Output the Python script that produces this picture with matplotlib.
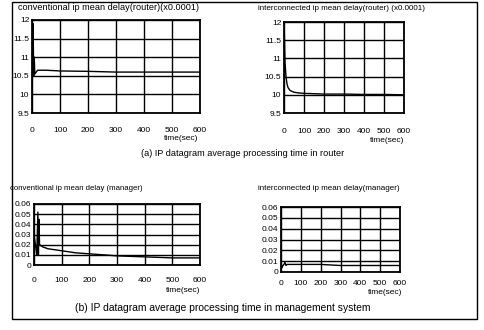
import matplotlib.pyplot as plt
from matplotlib.patches import Rectangle

plt.rcParams['font.family'] = ['Liberation Sans', 'DejaVu Sans']

# time axis (sec)
xticks = [0, 100, 200, 300, 400, 500, 600]

# (a) router, values in units of 0.0001
router_yticks = [9.5, 10, 10.5, 11, 11.5, 12]
router_ylabels = ['9.5', '10', '10.5', '11', '11.5', '12']
t_conv_router = [0, 2, 4, 6, 8, 10, 15, 20, 30, 50, 100, 200, 300, 400, 500, 600]
conv_router = [12.0, 10.5, 11.9, 10.5, 11.0, 10.55, 10.6, 10.65, 10.65, 10.65,
               10.63, 10.62, 10.6, 10.6, 10.6, 10.6]
t_inter_router = [0, 2, 5, 10, 15, 20, 30, 50, 75, 100, 150, 200, 300, 400, 500, 600]
inter_router = [12.0, 11.6, 10.9, 10.5, 10.3, 10.2, 10.12, 10.07, 10.05, 10.04,
                10.03, 10.02, 10.02, 10.01, 10.01, 10.0]

# (b) management system
mgr_yticks = [0, 0.01, 0.02, 0.03, 0.04, 0.05, 0.06]
mgr_ylabels = ['0', '0.01', '0.02', '0.03', '0.04', '0.05', '0.06']
t_conv_mgr = [0, 10, 14, 16, 18, 20, 25, 30, 50, 100, 150, 200, 300, 400, 500, 600]
conv_mgr = [0.03, 0.01, 0.052, 0.01, 0.045, 0.02, 0.019, 0.018, 0.016, 0.014,
            0.012, 0.011, 0.009, 0.008, 0.007, 0.007]
t_inter_mgr = [0, 5, 10, 15, 20, 25, 30, 50, 100, 200, 300, 400, 500, 600]
inter_mgr = [0.009, 0.004, 0.006, 0.007, 0.009, 0.006, 0.007, 0.007, 0.007,
             0.007, 0.006, 0.006, 0.006, 0.006]

fig = plt.figure(figsize=(4.84, 3.30), dpi=100)

W, H = 484.0, 330.0
def box(x0, y0, x1, y1):
    # pixel box (from top-left) -> figure fraction
    return [x0 / W, 1 - y1 / H, (x1 - x0) / W, (y1 - y0) / H]

def ftext(x, y, s, size, ha='left'):
    fig.text(x / W, 1 - y / H, s, ha=ha, va='center', fontsize=size)

def panel(rect, t, y, yticks, ylabels, xpad):
    ax = fig.add_axes(rect)
    ax.plot(t, y, color='black', lw=1.0)
    ax.set_xlim(0, 600)
    ax.set_ylim(yticks[0], yticks[-1])
    ax.set_xticks(xticks)
    ax.set_xticklabels([str(v) for v in xticks])
    ax.set_yticks(yticks)
    ax.set_yticklabels(ylabels)
    ax.grid(True, color='black', lw=1.0)
    ax.tick_params(length=0, labelsize=6)
    ax.tick_params(axis='x', pad=xpad)
    ax.tick_params(axis='y', pad=2)
    for s in ax.spines.values():
        s.set_linewidth(1.3)
    return ax

panel(box(32, 20, 200, 113), t_conv_router, conv_router,
      router_yticks, router_ylabels, 10)
ftext(18, 8, 'conventional ip mean delay(router)(x0.0001)', 6.6)
ftext(198, 139, 'time(sec)', 6, ha='right')

panel(box(284, 22, 404, 113), t_inter_router, inter_router,
      router_yticks, router_ylabels, 11)
ftext(258, 8, 'interconnected ip mean delay(router) (x0.0001)', 5.8)
ftext(404, 141, 'time(sec)', 6, ha='right')

panel(box(34, 204, 200, 265), t_conv_mgr, conv_mgr,
      mgr_yticks, mgr_ylabels, 8.5)
ftext(10, 188, 'conventional ip mean delay (manager)', 5.6)
ftext(200, 291, 'time(sec)', 6, ha='right')

panel(box(281, 207, 400, 272), t_inter_mgr, inter_mgr,
      mgr_yticks, mgr_ylabels, 5.5)
ftext(258, 189, 'interconnected ip mean delay(manager)', 5.8)
ftext(402, 292, 'time(sec)', 6, ha='right')

ftext(243, 154, '(a) IP datagram average processing time in router', 6.6, ha='center')
ftext(223, 308, '(b) IP datagram average processing time in management system',
      7.4, ha='center')

fig.patches.append(Rectangle((12 / W, 1 - 319 / H), 465 / W, 317 / H,
                             transform=fig.transFigure, fill=False,
                             edgecolor='black', lw=1.0))

fig.savefig('out.png', dpi=100)
